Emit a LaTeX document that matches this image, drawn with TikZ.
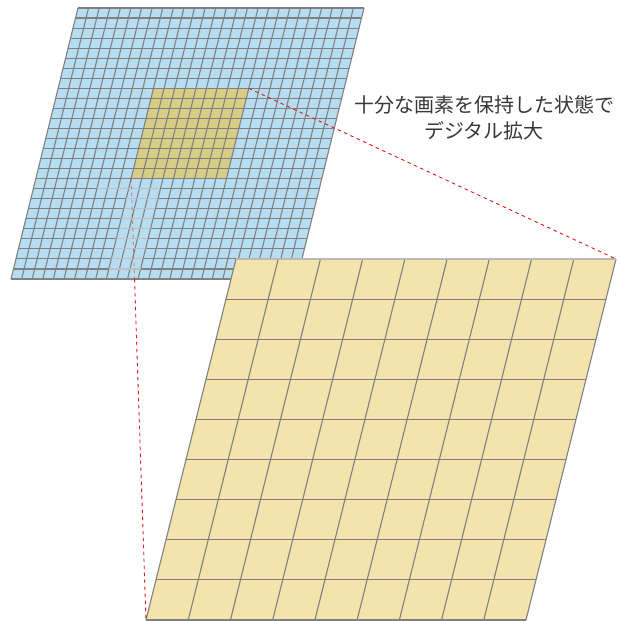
\documentclass[tikz,border=0pt]{standalone}
\usepackage{fontspec}
\usetikzlibrary{calc}
\newfontfamily\cjk{Noto Sans CJK JP}
\definecolor{gridgray}{RGB}{128,128,128}
\definecolor{pixblue}{RGB}{182,221,241}
\definecolor{pixsel}{RGB}{215,205,132}
\definecolor{pixbig}{RGB}{244,227,172}
\definecolor{txtgray}{RGB}{55,55,55}
\definecolor{dashred}{RGB}{228,20,20}
\begin{document}
\begin{tikzpicture}[x=1pt,y=-1pt,
  gridline/.style={draw=gridgray,line width=1.1pt},
  biggridline/.style={draw=gridgray,line width=1.1pt},
  zoomline/.style={draw=dashred,line width=0.9pt,dash pattern=on 3.5pt off 3.5pt},
  caption/.style={font=\cjk\fontsize{20}{26}\selectfont,text=txtgray,align=center,inner sep=0pt}]
\useasboundingbox (0,0) rectangle (619,621);

% small (original) pixel grid
\begin{scope}[shift={(78,8)},x={(10.5926pt,0pt)},y={(-2.4815pt,-10.037pt)}]
  \fill[pixblue] (0,0) -- (27,0) -- (27,27) -- (0,27) -- cycle;
  \fill[pixsel] (9,8) -- (18,8) -- (18,17) -- (9,17) -- cycle;
  \foreach \i in {0,...,27} {
    \draw[gridline] (\i,0) -- (\i,27);
    \draw[gridline] (0,\i) -- (27,\i);
  }
  \draw[white,opacity=0.5,line width=1.1pt] (6,18) -- (12,18);
  \foreach \r in {19,...,26} {
    \draw[white,opacity=0.5,line width=1.1pt] (9,\r) -- (12,\r);
  }
  \coordinate (selTR) at (18,8);
  \coordinate (selBL) at (9,17);
\end{scope}

% enlarged grid
\begin{scope}[shift={(236,259)},x={(42.222pt,0pt)},y={(-10pt,-40.111pt)}]
  \fill[pixbig] (0,0) -- (9,0) -- (9,9) -- (0,9) -- cycle;
  \foreach \i in {0,...,9} {
    \draw[biggridline] (\i,0) -- (\i,9);
  }
  \foreach \i in {1,...,9} {
    \draw[biggridline] (0,\i) -- (9,\i);
  }
  \draw[draw=gridgray!55,line width=1.6pt] (0,0) -- (9,0);
  \coordinate (bigTR) at (9,0);
  \coordinate (bigBL) at (0,9);
\end{scope}

% zoom guide lines
\coordinate (cut) at ($(selBL)!0.227!(bigBL)$);
\draw[zoomline] (selTR) -- (bigTR);
\draw[zoomline,draw opacity=0.45] (selBL) -- (cut);
\draw[zoomline] (cut) -- (bigBL);

\node[caption] (label) at (484,118) {十分な画素を保持した状態で\\デジタル拡大};
\end{tikzpicture}
\end{document}
